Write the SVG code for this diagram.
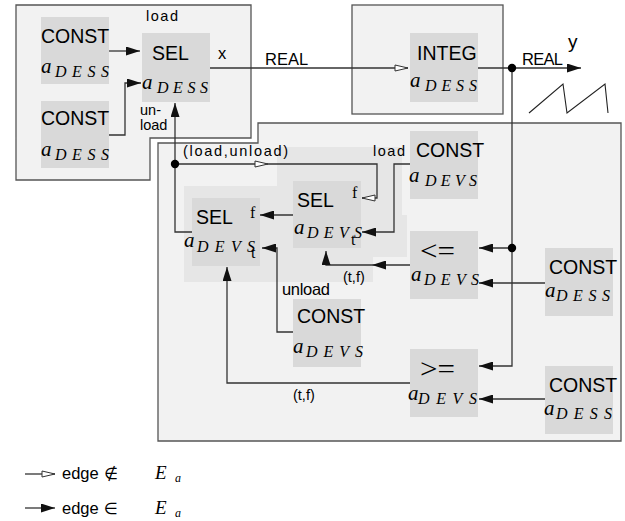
<svg xmlns="http://www.w3.org/2000/svg" width="625" height="521" viewBox="0 0 625 521">
<defs>
<style>
.box{fill:#f2f2f2;stroke:#555;stroke-width:1.3}
.reg{fill:#e6e6e6}
.node{fill:#d9d9d9}
.lab{font-family:"Liberation Sans",Arial,sans-serif;font-size:19.5px;fill:#000}
.ma{font-family:"Liberation Serif","Times New Roman",serif;font-style:italic;font-size:21px;fill:#000}
.sub{font-family:"Liberation Serif","Times New Roman",serif;font-style:italic;font-size:16px;fill:#000}
.op{font-family:"Liberation Serif","Times New Roman",serif;font-size:27px;fill:#000}
.rm{font-family:"Liberation Serif","Times New Roman",serif;font-size:16px;fill:#000}
.sm{font-family:"Liberation Sans",Arial,sans-serif;font-size:14.5px;fill:#000}
.md{font-family:"Liberation Sans",Arial,sans-serif;font-size:16.5px;fill:#000}
.sym{font-family:"DejaVu Sans",sans-serif;font-size:16px;fill:#000}
.c{fill:none;stroke:#333;stroke-width:1.3}
.f{marker-end:url(#af)}
.h{marker-end:url(#ah)}
</style>
<marker id="af" markerUnits="userSpaceOnUse" markerWidth="15" markerHeight="9" refX="14" refY="4.5" orient="auto"><path d="M0,0 L14,4.5 L0,9 z" fill="#111"/></marker>
<marker id="ah" markerUnits="userSpaceOnUse" markerWidth="16" markerHeight="9" refX="14" refY="4" orient="auto"><path d="M1,1 L14,4 L1,7 z" fill="#fff" stroke="#333" stroke-width="1"/></marker>
</defs>
<rect width="625" height="521" fill="#fff"/>

<g id="containers">
<path class="box" d="M16,5 H251 V138 H150 V180 H16 Z"/>
<rect class="box" x="352" y="5" width="151" height="109"/>
<path class="box" d="M158,143 H258 V123 H621 V441 H158 Z"/>
<path class="reg" d="M277,147 H402 V215 H407 V257 H373 V282 H184 V186 H277 Z"/>
<polyline points="529,113 563,84 567,113 605,84 608,113" fill="none" stroke="#222" stroke-width="1.1"/>
</g>

<g id="const1"><rect class="node" x="41" y="17" width="68" height="67"/>
<text class="lab" x="41" y="43">CONST</text><text class="ma" x="41" y="73">a</text><text class="sub" x="55" y="77" textLength="54" lengthAdjust="spacing">DESS</text></g>

<g id="const2"><rect class="node" x="41" y="101" width="68" height="67"/>
<text class="lab" x="41" y="125">CONST</text><text class="ma" x="41" y="156">a</text><text class="sub" x="55" y="160" textLength="54" lengthAdjust="spacing">DESS</text></g>

<g id="sel1"><rect class="node" x="142" y="33" width="68" height="69"/>
<text class="lab" x="152" y="60">SEL</text><text class="ma" x="142" y="89">a</text><text class="sub" x="157" y="93" textLength="51" lengthAdjust="spacing">DESS</text></g>

<g id="integ"><rect class="node" x="410" y="33" width="68" height="69"/>
<text class="lab" x="417" y="60">INTEG</text><text class="ma" x="410" y="87">a</text><text class="sub" x="425" y="91" textLength="52" lengthAdjust="spacing">DESS</text></g>

<g id="constLoad"><rect class="node" x="410" y="131" width="68" height="68"/>
<text class="lab" x="416" y="157">CONST</text><text class="ma" x="409" y="182">a</text><text class="sub" x="425" y="186" textLength="52" lengthAdjust="spacing">DEVS</text></g>

<g id="sel2"><rect class="node" x="293" y="181" width="68" height="67"/>
<text class="lab" x="297" y="207">SEL</text><text class="ma" x="294" y="234">a</text><text class="sub" x="307" y="238" textLength="55" lengthAdjust="spacing">DEVS</text>
<text class="rm" x="352" y="198">f</text><text class="rm" x="351" y="245">t</text></g>

<g id="sel3"><rect class="node" x="192" y="198" width="68" height="68"/>
<text class="lab" x="196" y="224">SEL</text><text class="ma" x="184" y="247">a</text><text class="sub" x="197" y="252" textLength="58" lengthAdjust="spacing">DEVS</text>
<text class="rm" x="250" y="218">f</text><text class="rm" x="251" y="258">t</text></g>

<g id="le"><rect class="node" x="410" y="231" width="68" height="68"/>
<text class="op" x="420" y="260" textLength="35" lengthAdjust="spacingAndGlyphs">&lt;=</text><text class="ma" x="411" y="281">a</text><text class="sub" x="424" y="285" textLength="55" lengthAdjust="spacing">DEVS</text></g>

<g id="constMid"><rect class="node" x="545" y="248" width="68" height="68"/>
<text class="lab" x="549" y="274">CONST</text><text class="ma" x="545" y="297">a</text><text class="sub" x="556" y="301" textLength="54" lengthAdjust="spacing">DESS</text></g>

<g id="constUnload"><rect class="node" x="293" y="299" width="68" height="68"/>
<text class="lab" x="297" y="323">CONST</text><text class="ma" x="293" y="353">a</text><text class="sub" x="306" y="357" textLength="57" lengthAdjust="spacing">DEVS</text></g>

<g id="ge"><rect class="node" x="410" y="349" width="68" height="68"/>
<text class="op" x="420" y="378" textLength="35" lengthAdjust="spacingAndGlyphs">&gt;=</text><text class="ma" x="408" y="400">a</text><text class="sub" x="418" y="404" textLength="59" lengthAdjust="spacing">DEVS</text></g>

<g id="constLow"><rect class="node" x="545" y="366" width="68" height="68"/>
<text class="lab" x="549" y="392">CONST</text><text class="ma" x="544" y="415">a</text><text class="sub" x="556" y="419" textLength="56" lengthAdjust="spacing">DESS</text></g>

<g id="connectors">
<path class="c f" d="M109,51 H140"/>
<path class="c f" d="M109,135 H125 V83 H141"/>
<path class="c h" d="M210,68 H408"/>
<path class="c f" d="M478,68 H581"/>
<path class="c f" d="M512,68 V366 H479"/>
<path class="c f" d="M512,248 H479"/>
<path class="c f" d="M545,283 H479"/>
<path class="c f" d="M545,399 H479"/>
<path class="c f" d="M410,383 H227 V267"/>
<path class="c f" d="M410,265 H372"/>
<path class="c f" d="M372,265 H326 V251"/>
<path class="c f" d="M410,164 H394 V232 H362"/>
<path class="c f" d="M293,332 H277 V248 H262"/>
<path class="c f" d="M293,215 H260"/>
<path class="c f" d="M192,232 H175 V103"/>
<path class="c h" d="M175,164 H268"/>
<path class="c h" d="M268,164 H377 V198 H362"/>
<circle cx="512" cy="68" r="4.2" fill="#000"/>
<circle cx="512" cy="248" r="4.2" fill="#000"/>
<circle cx="175" cy="164" r="4.2" fill="#000"/>
</g>

<g id="labels">
<text class="sm" x="146" y="21" textLength="32" lengthAdjust="spacing">load</text>
<text class="md" x="218" y="59">x</text>
<text class="md" x="265" y="65">REAL</text>
<text class="sm" x="140" y="115">un-</text>
<text class="sm" x="140" y="130">load</text>
<text class="md" x="522" y="65" textLength="41" lengthAdjust="spacing">REAL</text>
<text class="md" x="568" y="48" style="font-size:19px">y</text>
<text class="sm" x="183" y="156" textLength="105" lengthAdjust="spacing">(load,unload)</text>
<text class="sm" x="373" y="156" textLength="32" lengthAdjust="spacing">load</text>
<text class="sm" x="343" y="282">(t,f)</text>
<text class="md" x="282" y="295" textLength="48" lengthAdjust="spacing">unload</text>
<text class="sm" x="293" y="400">(t,f)</text>
</g>

<g id="legend">
<path class="c h" d="M25,474 H55"/>
<path class="c f" d="M25,508 H55"/>
<text class="md" x="62" y="479">edge</text>
<text class="sym" x="104" y="479">∉</text>
<text class="ma" x="155" y="479" style="font-size:19px">E</text><text class="sub" x="175" y="482" style="font-size:12px">a</text>
<text class="md" x="62" y="514">edge</text>
<text class="sym" x="104" y="514">∈</text>
<text class="ma" x="155" y="514" style="font-size:19px">E</text><text class="sub" x="175" y="517" style="font-size:12px">a</text>
</g>
</svg>
